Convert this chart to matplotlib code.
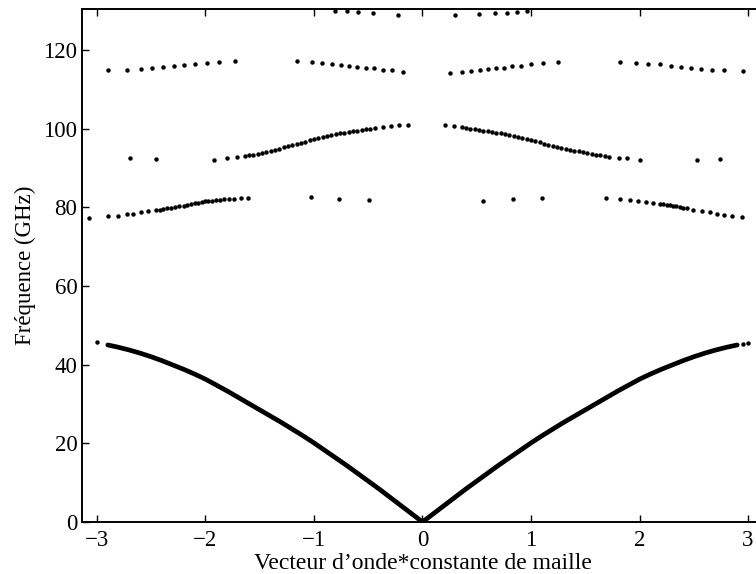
import matplotlib
matplotlib.use("Agg")
import matplotlib.pyplot as plt

plt.rcParams['font.family'] = ['Liberation Serif', 'DejaVu Serif']

# acoustic branch (|k|, f), drawn on both sides of k = 0
acou_k = [0.0, 0.1, 0.2, 0.3, 0.4, 0.5, 0.6, 0.7, 0.8, 0.9, 1.0, 1.1, 1.2, 1.3, 1.4,
          1.5, 1.6, 1.7, 1.8, 1.9, 2.0, 2.1, 2.2, 2.3, 2.4, 2.5, 2.6, 2.7, 2.8, 2.9]
acou_f = [0.0, 2.1, 4.2, 6.3, 8.4, 10.4, 12.4, 14.4, 16.3, 18.2, 20.1, 21.9, 23.6, 25.3, 26.9,
          28.5, 30.1, 31.7, 33.3, 34.8, 36.3, 37.6, 38.8, 39.9, 41.0, 42.0, 42.9, 43.7, 44.4, 45.0]
# separate points at the zone edges
edge_k = [-3.0, 2.95, 3.0]
edge_f = [45.8, 45.3, 45.5]

# second band
b2_k = [-3.071, -2.896, -2.804, -2.726, -2.665, -2.594, -2.527, -2.456, -2.42, -2.389,
        -2.35, -2.321, -2.28, -2.241, -2.20, -2.168, -2.13, -2.097, -2.065, -2.035,
        -2.005, -1.974, -1.94, -1.903, -1.865, -1.829, -1.78, -1.737, -1.67, -1.605,
        -1.028, -0.767, -0.490,
        0.561, 0.831, 1.105, 1.688, 1.820, 1.912, 1.989, 2.060, 2.127, 2.189, 2.22,
        2.250, 2.28, 2.311, 2.34, 2.373, 2.40, 2.435, 2.496, 2.573, 2.650, 2.712,
        2.779, 2.850, 2.942]
b2_f = [77.4, 77.7, 77.9, 78.2, 78.4, 78.7, 79.0, 79.2, 79.4, 79.5,
        79.7, 79.8, 80.0, 80.2, 80.4, 80.6, 80.8, 81.0, 81.2, 81.3,
        81.5, 81.6, 81.7, 81.8, 81.9, 82.0, 82.1, 82.2, 82.3, 82.4,
        82.5, 82.2, 81.9,
        81.7, 82.0, 82.3, 82.4, 82.2, 81.9, 81.7, 81.4, 81.2, 80.9, 80.8,
        80.7, 80.5, 80.4, 80.2, 80.1, 79.9, 79.7, 79.4, 79.1, 78.7, 78.4,
        78.0, 77.9, 77.6]

# third band
b3_k = [-2.696, -2.456, -1.919, -1.799, -1.713,
        -1.64, -1.60, -1.56, -1.52, -1.48, -1.44, -1.40, -1.36, -1.32, -1.28, -1.24,
        -1.20, -1.16, -1.12, -1.08, -1.04, -1.00, -0.96, -0.92, -0.88, -0.84, -0.80,
        -0.76, -0.72, -0.68, -0.64, -0.60, -0.56, -0.52, -0.48, -0.44,
        -0.367, -0.290, -0.219, -0.136,
        0.207, 0.293,
        0.36, 0.40, 0.44, 0.48, 0.52, 0.56, 0.60, 0.64, 0.68, 0.72, 0.76, 0.80, 0.84,
        0.88, 0.92, 0.96, 1.00, 1.04, 1.08, 1.12, 1.16, 1.20, 1.24, 1.28, 1.32, 1.36,
        1.40, 1.44, 1.48, 1.52, 1.56, 1.60, 1.64, 1.68,
        1.722, 1.808, 1.885, 2.008, 2.527, 2.745]
b3_f = [92.4, 92.2, 92.1, 92.4, 92.8,
        93.0, 93.2, 93.4, 93.6, 93.8, 94.0, 94.3, 94.6, 94.9, 95.2, 95.5,
        95.8, 96.1, 96.4, 96.7, 97.0, 97.3, 97.6, 97.9, 98.2, 98.4, 98.6,
        98.8, 99.0, 99.2, 99.3, 99.5, 99.6, 99.8, 99.9, 100.1,
        100.3, 100.6, 100.8, 101.0,
        100.8, 100.6,
        100.3, 100.1, 99.9, 99.8, 99.6, 99.5, 99.3, 99.2, 99.0, 98.8, 98.6, 98.3, 98.1,
        97.8, 97.6, 97.3, 97.0, 96.8, 96.5, 96.2, 95.9, 95.6, 95.3, 95.1, 94.8, 94.6,
        94.4, 94.2, 94.0, 93.8, 93.6, 93.4, 93.2, 93.0,
        92.8, 92.5, 92.4, 92.1, 92.0, 92.3]

# fourth band
b4_k = [-2.896, -2.721, -2.597, -2.496, -2.389, -2.290, -2.195, -2.097, -1.989, -1.873, -1.728,
        -1.160, -1.021, -0.923, -0.831, -0.754, -0.675, -0.601, -0.524, -0.447, -0.367, -0.284, -0.182,
        0.253, 0.361, 0.447, 0.530, 0.607, 0.677, 0.751, 0.828, 0.908, 0.997, 1.108, 1.252,
        1.820, 1.968, 2.081, 2.189, 2.287, 2.382, 2.472, 2.564, 2.665, 2.779, 2.951]
b4_f = [114.8, 114.9, 115.2, 115.4, 115.7, 115.9, 116.1, 116.3, 116.6, 116.9, 117.1,
        117.1, 116.9, 116.6, 116.4, 116.2, 116.0, 115.7, 115.4, 115.3, 115.0, 114.8, 114.5,
        114.2, 114.5, 114.7, 114.8, 115.1, 115.4, 115.5, 115.8, 116.0, 116.4, 116.6, 116.9,
        117.0, 116.8, 116.5, 116.3, 116.0, 115.7, 115.4, 115.2, 115.0, 114.8, 114.6]

# fifth band, just under the top of the frame
b5_k = [-0.806, -0.699, -0.592, -0.453, -0.223, 0.300, 0.521, 0.668, 0.776, 0.874, 0.960]
b5_f = [130.0, 129.8, 129.6, 129.3, 129.0, 128.8, 129.1, 129.3, 129.5, 129.7, 129.9]

xticks = [-3, -2, -1, 0, 1, 2, 3]
yticks = [0, 20, 40, 60, 80, 100, 120]

fig = plt.figure(figsize=(7.56, 5.74), dpi=100)
ax = fig.add_axes([81.6 / 756, 52 / 574, 681.8 / 756, 513 / 574])

neg_k = [-k for k in acou_k]
ax.plot(acou_k, acou_f, color='black', linewidth=3.4, solid_capstyle='round')
ax.plot(neg_k, acou_f, color='black', linewidth=3.4, solid_capstyle='round')

ms = 3.2
for kk, ff in [(edge_k, edge_f), (b2_k, b2_f), (b3_k, b3_f), (b4_k, b4_f), (b5_k, b5_f)]:
    ax.plot(kk, ff, linestyle='none', marker='o', markersize=ms, color='black',
            markeredgewidth=0, clip_on=False)

ax.set_xlim(-3.1416, 3.1416)
ax.set_ylim(0, 130.4)
ax.set_xticks(xticks)
ax.set_yticks(yticks)
ax.tick_params(direction='in', top=True, right=False, length=5, width=1.0,
               labelsize=16.5, colors='black')
ax.tick_params(axis='x', pad=6)
ax.tick_params(axis='y', pad=3)
for s in ax.spines.values():
    s.set_linewidth(1.4)

ax.set_xlabel('Vecteur d\u2019onde*constante de maille', fontsize=17, labelpad=1)
ax.set_ylabel('Fréquence (GHz)', fontsize=16.5, labelpad=5)

plt.savefig('out.png', dpi=100)
